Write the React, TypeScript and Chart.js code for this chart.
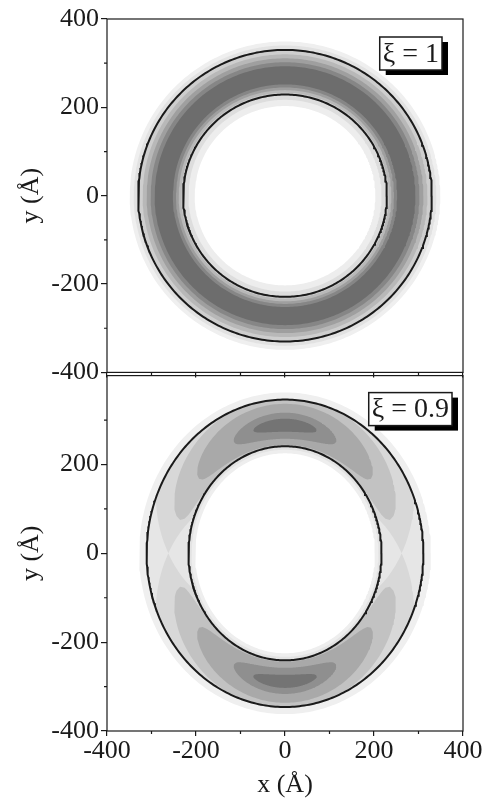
import React, { useEffect, useRef } from 'react';
import { Chart, registerables } from 'chart.js';

Chart.register(...registerables);

const FONT_FAMILY = '"Liberation Serif", "Times New Roman", serif';
const INK = '#1a1a1a';

// ---- axes ----
const xTickValues = [-400, -200, 0, 200, 400];
const yTickValuesTop = [400, 200, 0, -200, -400];
const yTickValuesBottom = [200, 0, -200, -400];
const minorTickValues = [-300, -100, 100, 300];
const xTitle = 'x (Å)';
const yTitle = 'y (Å)';

// ---- panel 1 : ξ = 1 (circular ring) ----
const panel1Label = 'ξ = 1';
const ring1ContourRadii = [330, 229];
const ring1ShadeRadii = [349, 340, 330, 320, 311, 302, 293, 252, 245, 239, 233, 229, 217, 203];
const ring1ShadeGrays = [
  '#efefef', '#e2e2e2', '#cecece', '#b8b8b8', '#9f9f9f', '#868686', '#6d6d6d',
  '#868686', '#9f9f9f', '#b8b8b8', '#cecece', '#dddddd', '#ededed', '#ffffff',
];

// ---- panel 2 : ξ = 0.9 (elliptical ring) ----
const panel2Label = 'ξ = 0.9';
const ell2OuterSemiAxes = [311, 346];
const ell2InnerSemiAxes = [217, 241];
const ell2BackSemiAxes = [[328, 362], [311, 346]];
const ell2BackGrays = ['#efefef', '#e6e6e6'];
const ell2HoleSemiAxes = [[217, 241], [210, 233], [202, 225]];
const ell2HoleGrays = ['#e3e3e3', '#eeeeee', '#ffffff'];
// density lobes (apex at top and bottom of the ring)
const lobeGrays = ['#d8d8d8', '#c2c2c2', '#a9a9a9', '#8f8f8f', '#747474'];
const lobeHalfAngles = [90, 74, 52, 27, 16]; // degrees from the y axis
const lobeCentreApex = [0.5, 0.49, 0.47, 0.44, 0.45]; // 0 = inner contour, 1 = outer contour
const lobeCentreTip = [0.48, 0.3, 0.3, 0.38, 0.44];
const lobeHalfWidth = [2.2, 0.55, 0.44, 0.28, 0.14];
const lobeTipShape = ['pointed', 'round', 'round', 'round', 'round'];
const lobeApexAngles = [90, 270];

type Pt = { x: number; y: number };

function ellipse(a: number, b: number, n = 360): Pt[] {
  const pts: Pt[] = [];
  for (let i = 0; i <= n; i++) {
    const t = (i / n) * Math.PI * 2;
    pts.push({ x: a * Math.cos(t), y: b * Math.sin(t) });
  }
  return pts;
}

function lobe(k: number, apexDeg: number): Pt[] {
  const [ai, bi] = ell2InnerSemiAxes;
  const [ao, bo] = ell2OuterSemiAxes;
  const w = lobeHalfAngles[k];
  const H = lobeHalfWidth[k];
  const c0 = lobeCentreApex[k];
  const c1 = lobeCentreTip[k];
  const pointed = lobeTipShape[k] === 'pointed';
  const N = 120;
  const at = (t: number, side: number): Pt => {
    const c = c0 + (c1 - c0) * t * t;
    const h = H * (pointed ? 1 - Math.abs(t) : Math.sqrt(Math.max(0, 1 - t * t)));
    const s = Math.min(1, Math.max(0, c + side * h));
    const th = ((apexDeg + w * t) * Math.PI) / 180;
    return { x: (ai + s * (ao - ai)) * Math.cos(th), y: (bi + s * (bo - bi)) * Math.sin(th) };
  };
  const pts: Pt[] = [];
  for (let i = 0; i <= N; i++) pts.push(at(-1 + (2 * i) / N, 1));
  for (let i = N; i >= 0; i--) pts.push(at(-1 + (2 * i) / N, -1));
  pts.push(pts[0]);
  return pts;
}

const areaDs = (data: Pt[], color: string) => ({
  data,
  fill: 'shape',
  backgroundColor: color,
  borderColor: 'rgba(0,0,0,0)',
  borderWidth: 0,
  pointRadius: 0,
  pointHoverRadius: 0,
  tension: 0,
});
const contourDs = (data: Pt[]) => ({
  data,
  fill: false,
  borderColor: INK,
  borderWidth: 2,
  pointRadius: 0,
  pointHoverRadius: 0,
  tension: 0,
});
const ordered = (list: any[]) => list.map((d, i) => ({ ...d, order: list.length - i }));

function panel1Datasets() {
  const list: any[] = [];
  ring1ShadeRadii.forEach((r, i) => list.push(areaDs(ellipse(r, r), ring1ShadeGrays[i])));
  ring1ContourRadii.forEach((r) => list.push(contourDs(ellipse(r, r))));
  return ordered(list);
}

function panel2Datasets() {
  const list: any[] = [];
  ell2BackSemiAxes.forEach(([a, b], i) => list.push(areaDs(ellipse(a, b), ell2BackGrays[i])));
  lobeGrays.forEach((g, k) => lobeApexAngles.forEach((ap) => list.push(areaDs(lobe(k, ap), g))));
  ell2HoleSemiAxes.forEach(([a, b], i) => list.push(areaDs(ellipse(a, b), ell2HoleGrays[i])));
  list.push(contourDs(ellipse(ell2OuterSemiAxes[0], ell2OuterSemiAxes[1])));
  list.push(contourDs(ellipse(ell2InnerSemiAxes[0], ell2InnerSemiAxes[1])));
  return ordered(list);
}

const font26 = { family: FONT_FAMILY, size: 26 };

function yAxis(ticks: number[]) {
  return {
    type: 'linear',
    min: -400,
    max: 400,
    afterBuildTicks: (s: any) => {
      s.ticks = ticks.map((v) => ({ value: v }));
    },
    afterFit: (s: any) => {
      s.width = 107;
    },
    ticks: { font: font26, color: INK, padding: 2 },
    grid: { drawOnChartArea: false, drawTicks: true, tickLength: 6, color: INK, lineWidth: 1.2 },
    border: { display: false },
    title: { display: true, text: yTitle, font: font26, color: INK, padding: { top: 16, bottom: 0 } },
  };
}

function decorPlugin(label: string, rightGap: number, topGap: number) {
  return {
    id: 'decor',
    afterDraw(chart: any) {
      const { ctx, chartArea: a, scales } = chart;
      ctx.save();
      ctx.strokeStyle = INK;
      ctx.lineWidth = 1.2;
      ctx.strokeRect(a.left, a.top, a.right - a.left, a.bottom - a.top);
      ctx.beginPath();
      for (const v of minorTickValues) {
        const y = scales.y.getPixelForValue(v);
        ctx.moveTo(a.left - 3, y);
        ctx.lineTo(a.left, y);
        const x = scales.x.getPixelForValue(v);
        ctx.moveTo(x, a.bottom);
        ctx.lineTo(x, a.bottom + 3);
      }
      ctx.stroke();
      // label box with drop shadow
      ctx.font = `28px ${FONT_FAMILY}`;
      const tw = ctx.measureText(label).width;
      const bw = tw + 6;
      const bh = 33;
      const bx = a.right - rightGap - bw;
      const by = a.top + topGap;
      ctx.fillStyle = '#000';
      ctx.fillRect(bx + 6, by + 5, bw, bh);
      ctx.fillStyle = '#fff';
      ctx.fillRect(bx, by, bw, bh);
      ctx.lineWidth = 1.5;
      ctx.strokeRect(bx, by, bw, bh);
      ctx.fillStyle = INK;
      ctx.textAlign = 'center';
      ctx.textBaseline = 'middle';
      ctx.fillText(label, bx + bw / 2, by + bh / 2 + 1);
      ctx.restore();
    },
  };
}

export default function App() {
  const c1 = useRef<HTMLCanvasElement>(null);
  const c2 = useRef<HTMLCanvasElement>(null);

  useEffect(() => {
    const common = {
      animation: false,
      responsive: false,
      devicePixelRatio: 1,
      events: [],
      plugins: { legend: { display: false }, tooltip: { enabled: false } },
    };

    const chart1 = new Chart(c1.current as HTMLCanvasElement, {
      type: 'line',
      data: { datasets: panel1Datasets() as any },
      options: {
        ...common,
        layout: { padding: { top: 19, right: 21, left: 0, bottom: 6 } },
        scales: {
          x: {
            type: 'linear',
            min: -400,
            max: 400,
            afterBuildTicks: (s: any) => {
              s.ticks = xTickValues.map((v) => ({ value: v }));
            },
            afterFit: (s: any) => {
              s.height = 10;
            },
            ticks: { display: false },
            grid: { drawOnChartArea: false, drawTicks: true, tickLength: 5, color: INK, lineWidth: 1.2 },
            border: { display: false },
          },
          y: yAxis(yTickValuesTop),
        },
      } as any,
      plugins: [decorPlugin(panel1Label, 21, 18)],
    });

    const chart2 = new Chart(c2.current as HTMLCanvasElement, {
      type: 'line',
      data: { datasets: panel2Datasets() as any },
      options: {
        ...common,
        layout: { padding: { top: 16, right: 21, left: 0, bottom: 0 } },
        scales: {
          x: {
            type: 'linear',
            min: -400,
            max: 400,
            afterBuildTicks: (s: any) => {
              s.ticks = xTickValues.map((v) => ({ value: v }));
            },
            afterFit: (s: any) => {
              s.height = 70;
            },
            ticks: { font: font26, color: INK, padding: 0, maxRotation: 0 },
            grid: { drawOnChartArea: false, drawTicks: true, tickLength: 5, color: INK, lineWidth: 1.2 },
            border: { display: false },
            title: { display: true, text: xTitle, font: font26, color: INK, padding: { top: 0, bottom: 0 } },
          },
          y: yAxis(yTickValuesBottom),
        },
      } as any,
      plugins: [decorPlugin(panel2Label, 11, 17)],
    });

    return () => {
      chart1.destroy();
      chart2.destroy();
    };
  }, []);

  return (
    <div style={{ position: 'absolute', left: 0, top: 0, width: 484, height: 801, background: '#fff', overflow: 'hidden' }}>
      <canvas ref={c1} width={484} height={390} style={{ position: 'absolute', left: 0, top: 0 }} />
      <canvas ref={c2} width={484} height={443} style={{ position: 'absolute', left: 0, top: 358 }} />
    </div>
  );
}
